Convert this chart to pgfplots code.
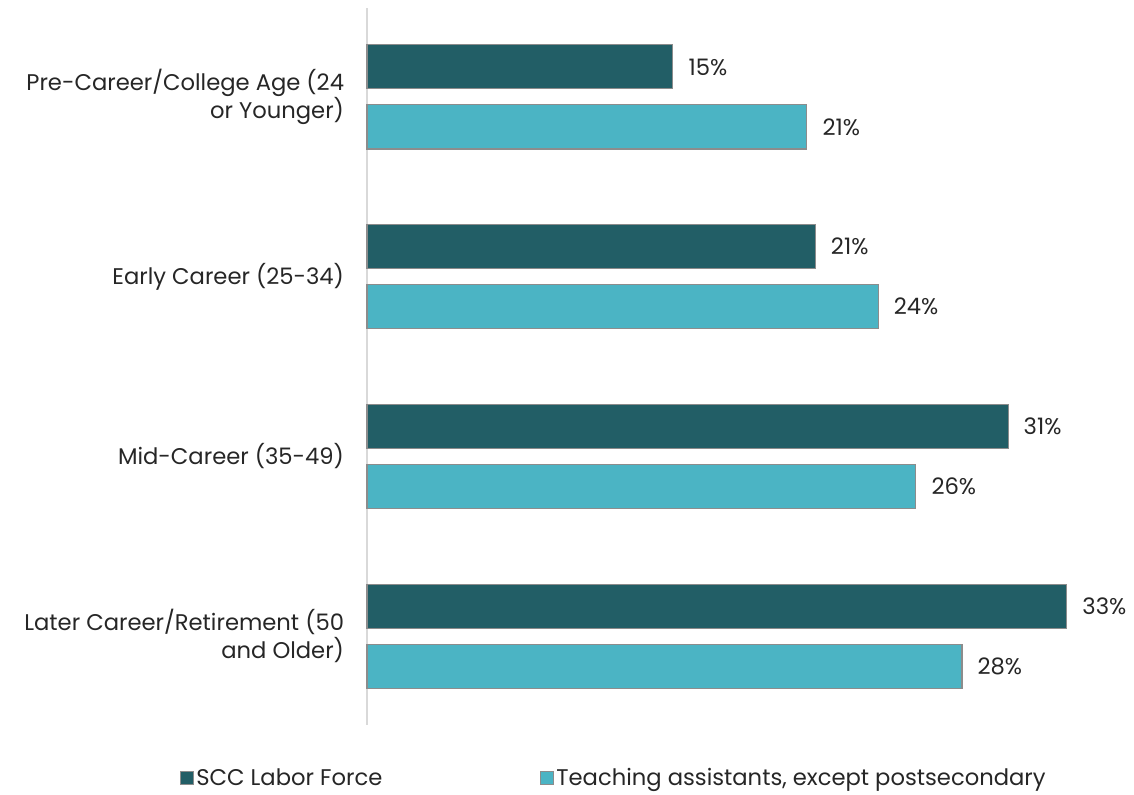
\documentclass[border=0pt]{standalone}
\usepackage{pgfplots}
\pgfplotsset{compat=1.18}
\usepackage{fontspec}
\setmainfont{Poppins}
\definecolor{darkteal}{HTML}{225E66}
\definecolor{lightteal}{HTML}{4BB4C4}
\definecolor{bord}{HTML}{8C8C8C}
\definecolor{axgray}{HTML}{D9D9D9}
\definecolor{txt}{HTML}{262626}
\begin{document}
\begin{tikzpicture}
\path[use as bounding box] (-275.25pt,-51.75pt) rectangle (575.25pt,543.75pt);
\begin{axis}[
  at={(0pt,0pt)}, anchor=south west,
  scale only axis, width=575.25pt, height=537.75pt,
  xbar, xmin=0, xmax=36.61,
  ymin=-0.495, ymax=3.495, y dir=reverse,
  axis x line=none, axis y line*=left,
  y axis line style={draw=axgray, line width=1.2pt, -},
  ytick={0,1,2,3},
  yticklabels={{Pre-Career/College Age (24\\or Younger)},{Early Career (25-34)},{Mid-Career (35-49)},{Later Career/Retirement (50\\and Older)}},
  yticklabel style={align=right, font=\fontsize{17}{21}\selectfont, text=txt, inner sep=0pt, xshift=-17pt},
  major tick length=0pt,
  bar width=0.245,
  clip=false,
  nodes near coords={\pgfmathprintnumber[fixed,precision=0,assume math mode=true]{\pgfplotspointmeta}\%},
  nodes near coords style={font=\fontsize{17}{20}\selectfont, text=txt, anchor=west, xshift=8pt},
  point meta=x,
  legend style={at={(0.322,-0.074)}, anchor=center, draw=none, fill=none, legend columns=2,
    font=\fontsize{17}{20}\selectfont, text=txt,
    /tikz/every even column/.append style={column sep=116pt}},
  legend image code/.code={\draw[#1, draw=bord, line width=0.8pt] (0pt,-4.9pt) rectangle (9.75pt,4.9pt);},
]
\addplot[fill=darkteal, draw=bord, line width=0.8pt, bar shift=-0.167] coordinates {(14.6,0) (21.4,1) (30.6,2) (33.4,3)};
\addplot[fill=lightteal, draw=bord, line width=0.8pt, bar shift=0.167] coordinates {(21.0,0) (24.4,1) (26.2,2) (28.4,3)};
\legend{{SCC Labor Force}, {Teaching assistants, except postsecondary}}
\end{axis}
\end{tikzpicture}
\end{document}
